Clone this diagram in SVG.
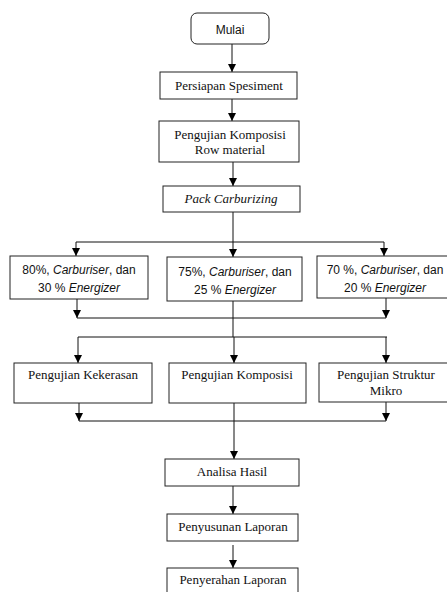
<svg xmlns="http://www.w3.org/2000/svg" width="447" height="592" viewBox="0 0 447 592">
<defs>
<marker id="ah" viewBox="0 0 8 8" refX="8" refY="4" markerWidth="8" markerHeight="8" markerUnits="userSpaceOnUse" orient="auto">
<path d="M0,0 L8,4 L0,8 Z" fill="#000"/>
</marker>
<style>
.box{fill:#fff;stroke:#222;stroke-width:1}
.ln{fill:none;stroke:#111;stroke-width:1}
.ar{fill:none;stroke:#111;stroke-width:1;marker-end:url(#ah)}
.s{font-family:"Liberation Serif",serif;font-size:13px;fill:#111;text-anchor:middle}
.c{font-family:"Liberation Sans",sans-serif;font-size:12px;fill:#111;text-anchor:middle}
.i{font-style:italic}
</style>
</defs>
<rect width="447" height="592" fill="#fff"/>
<g id="connectors">
<line class="ar" x1="232" y1="44" x2="232" y2="72"/>
<line class="ar" x1="232" y1="99" x2="232" y2="121"/>
<line class="ar" x1="233" y1="162" x2="233" y2="186"/>
<line class="ln" x1="233" y1="212" x2="233" y2="242"/>
<line class="ln" x1="76" y1="242" x2="384" y2="242"/>
<line class="ar" x1="76" y1="242" x2="76" y2="256"/>
<line class="ar" x1="233" y1="242" x2="233" y2="257"/>
<line class="ar" x1="384" y1="242" x2="384" y2="256"/>
<line class="ar" x1="77" y1="299" x2="77" y2="318"/>
<line class="ar" x1="386" y1="298" x2="386" y2="318"/>
<line class="ln" x1="77" y1="318" x2="386" y2="318"/>
<line class="ln" x1="233" y1="301" x2="233" y2="337"/>
<line class="ln" x1="78" y1="337" x2="387" y2="337"/>
<line class="ar" x1="78" y1="337" x2="78" y2="363"/>
<line class="ar" x1="234" y1="337" x2="234" y2="363"/>
<line class="ar" x1="386" y1="337" x2="386" y2="363"/>
<line class="ar" x1="79" y1="403" x2="79" y2="421"/>
<line class="ar" x1="386" y1="402" x2="386" y2="421"/>
<line class="ln" x1="79" y1="421" x2="386" y2="421"/>
<line class="ar" x1="234" y1="403" x2="234" y2="459"/>
<line class="ar" x1="233" y1="486" x2="233" y2="514"/>
<line class="ar" x1="233" y1="545" x2="233" y2="568"/>
</g>
<g id="mulai"><rect class="box" x="191" y="13" width="78" height="31" rx="6"/><text class="c" x="230" y="34">Mulai</text></g>
<g id="persiapan"><rect class="box" x="160" y="72" width="137" height="27"/><text class="s" x="229" y="90">Persiapan Spesiment</text></g>
<g id="pengujian-row"><rect class="box" x="159" y="121" width="140" height="41"/><text class="s" x="230" y="139">Pengujian Komposisi</text><text class="s" x="230" y="154">Row material</text></g>
<g id="pack"><rect class="box" x="163" y="186" width="137" height="26"/><text class="s i" x="231" y="203">Pack Carburizing</text></g>
<g id="p80"><rect class="box" x="10" y="256" width="138" height="43"/><text class="c" x="79" y="274">80%, <tspan class="i">Carburiser</tspan>, dan</text><text class="c" x="79" y="292">30 % <tspan class="i">Energizer</tspan></text></g>
<g id="p75"><rect class="box" x="167" y="257" width="135" height="44"/><text class="c" x="235" y="276">75%, <tspan class="i">Carburiser</tspan>,  dan</text><text class="c" x="235" y="294">25 % <tspan class="i">Energizer</tspan></text></g>
<g id="p70"><rect class="box" x="317" y="256" width="135" height="42"/><text class="c" x="385" y="274">70 %, <tspan class="i">Carburiser</tspan>, dan</text><text class="c" x="385" y="292">20 % <tspan class="i">Energizer</tspan></text></g>
<g id="kekerasan"><rect class="box" x="14" y="363" width="138" height="40"/><text class="s" x="83" y="379">Pengujian Kekerasan</text></g>
<g id="komposisi"><rect class="box" x="169" y="363" width="137" height="40"/><text class="s" x="237" y="379">Pengujian Komposisi</text></g>
<g id="struktur"><rect class="box" x="319" y="363" width="133" height="39"/><text class="s" x="386" y="379">Pengujian Struktur</text><text class="s" x="386" y="395">Mikro</text></g>
<g id="analisa"><rect class="box" x="165" y="459" width="134" height="27"/><text class="s" x="232" y="476">Analisa Hasil</text></g>
<g id="penyusunan"><rect class="box" x="167" y="514" width="131" height="27"/><text class="s" x="233" y="531">Penyusunan Laporan</text></g>
<g id="penyerahan"><rect class="box" x="167" y="568" width="131" height="30"/><text class="s" x="233" y="584">Penyerahan Laporan</text></g>
</svg>
